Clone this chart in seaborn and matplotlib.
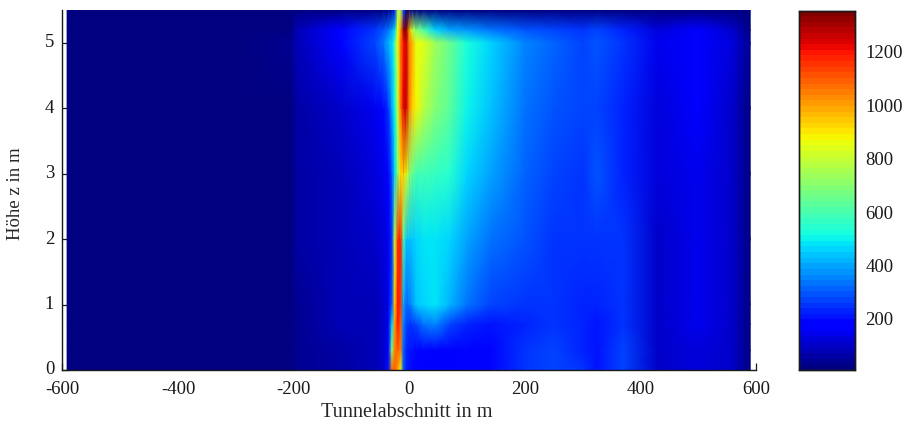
import matplotlib
matplotlib.use("Agg")
import matplotlib.pyplot as plt
import pandas as pd
import seaborn as sns

# Tunnel section (m) and height (m) of the table columns and rows
section_m = [-592, -300, -205, -195, -120, -60, -45, -36, -30, -25, -20, -15, -10, -5, 0, 5,
             12, 25, 45, 70, 100, 140, 200, 250, 300, 325, 370, 430, 500, 560, 590]
height_m = [0, 0.3, 0.7, 1.0, 2, 3, 4, 5, 5.2, 5.5]

# Temperature, one list per height
temp_z000 = [8, 10, 20, 50, 70, 85, 100, 200, 1100, 1100, 1000, 850, 300, 220, 200, 190,
             185, 175, 165, 170, 185, 190, 240, 270, 240, 210, 280, 95, 130, 100, 20]
temp_z030 = [8, 10, 20, 50, 70, 85, 100, 170, 700, 1050, 1100, 1050, 320, 230, 210, 200,
             190, 180, 170, 175, 190, 195, 240, 265, 235, 205, 275, 95, 130, 100, 20]
temp_z070 = [8, 10, 20, 50, 75, 85, 100, 150, 450, 1000, 1200, 1100, 350, 270, 260, 260,
             280, 330, 350, 280, 225, 200, 230, 255, 230, 210, 260, 100, 135, 100, 20]
temp_z100 = [8, 10, 20, 50, 75, 90, 105, 140, 300, 950, 1200, 1150, 400, 320, 340, 370,
             430, 470, 490, 410, 330, 270, 250, 250, 235, 220, 250, 100, 140, 105, 20]
temp_z200 = [8, 10, 20, 55, 80, 100, 115, 150, 250, 800, 1150, 1200, 600, 430, 430, 440,
             460, 480, 490, 470, 390, 330, 290, 260, 250, 250, 240, 110, 150, 110, 20]
temp_z300 = [9, 10, 20, 55, 90, 115, 140, 180, 300, 450, 700, 900, 950, 850, 720, 650,
             590, 580, 575, 550, 460, 390, 310, 280, 260, 290, 230, 115, 150, 110, 20]
temp_z400 = [9, 11, 22, 60, 110, 150, 190, 260, 400, 500, 800, 1050, 1230, 1250, 1050, 950,
             880, 780, 690, 620, 510, 430, 340, 290, 265, 280, 230, 125, 160, 110, 25]
temp_z500 = [10, 12, 30, 80, 170, 270, 340, 420, 470, 600, 850, 1050, 1200, 1250, 1050, 980,
             870, 830, 740, 640, 520, 450, 360, 320, 280, 290, 240, 140, 170, 120, 30]
temp_z520 = [9, 11, 28, 75, 160, 240, 300, 340, 400, 450, 850, 1000, 1300, 1340, 1000, 800,
             700, 600, 450, 400, 370, 340, 300, 280, 260, 270, 220, 130, 160, 110, 25]
temp_z550 = [5, 6, 8, 10, 15, 20, 25, 30, 40, 200, 750, 750, 300, 20, 20, 20,
             20, 20, 20, 20, 15, 15, 12, 12, 10, 10, 10, 8, 8, 8, 5]

x_ticks = [-600, -400, -200, 0, 200, 400, 600]
z_ticks = [0, 1, 2, 3, 4, 5]
cbar_ticks = [200, 400, 600, 800, 1000, 1200]
T_MIN, T_MAX = 8, 1355

sns.set_theme(style="ticks", font="Liberation Serif")
plt.rcParams["text.color"] = "#1a1a1a"

WIDTH, HEIGHT = 904, 421


def px_box(left: float, top: float, right: float, bottom: float) -> list[float]:
    """Axes rectangle from pixel edges of the reference."""
    return [left / WIDTH, 1 - bottom / HEIGHT, (right - left) / WIDTH, (bottom - top) / HEIGHT]


temps = pd.DataFrame(
    [temp_z000, temp_z030, temp_z070, temp_z100, temp_z200, temp_z300,
     temp_z400, temp_z500, temp_z520, temp_z550],
    index=height_m, columns=section_m,
)
jet64 = plt.get_cmap("jet", 64)

fig = plt.figure(figsize=(WIDTH / 100, HEIGHT / 100), dpi=100)
ax = fig.add_axes(px_box(62.5, 10, 756, 370))
cax = fig.add_axes(px_box(799, 10.5, 855.5, 370))

sns.heatmap(temps, ax=ax, cbar_ax=cax, cmap=jet64, vmin=T_MIN, vmax=T_MAX,
            cbar_kws={"ticks": cbar_ticks})

# The columns are not evenly spaced, so the field goes on a real metre scale with smooth shading
ax.collections[0].remove()
ax.pcolormesh(temps.columns, temps.index, temps.values, shading="gouraud",
              cmap=jet64, vmin=T_MIN, vmax=T_MAX)
ax.set_xlim(-600, 600)
ax.set_ylim(0, 5.5)
ax.set_axisbelow(True)
ax.set_xticks(x_ticks, [str(t) for t in x_ticks], rotation=0, fontsize=13.5)
ax.set_yticks(z_ticks, [str(t) for t in z_ticks], rotation=0, fontsize=13.5)
ax.tick_params(direction="in", length=5, width=0.9, colors="#1a1a1a")
ax.tick_params(axis="x", pad=8)
ax.tick_params(axis="y", pad=6)
ax.set_xlabel("Tunnelabschnitt in m", fontsize=14.6)
ax.set_ylabel("Höhe z in m", fontsize=13.5)
ax.xaxis.set_label_coords(0.497, -0.093)
ax.yaxis.set_label_coords(-0.056, 0.49)
for side in ("left", "bottom"):
    ax.spines[side].set_visible(True)
    ax.spines[side].set_color("#1a1a1a")
    ax.spines[side].set_linewidth(1.0)

cax.tick_params(direction="in", length=2.5, width=0.9, left=True, right=True, pad=7,
                labelsize=13.5, colors="#1a1a1a")
for spine in cax.spines.values():
    spine.set_visible(True)
    spine.set_color("#1a1a1a")
    spine.set_linewidth(1.0)

fig.savefig("out.png", dpi=100)
